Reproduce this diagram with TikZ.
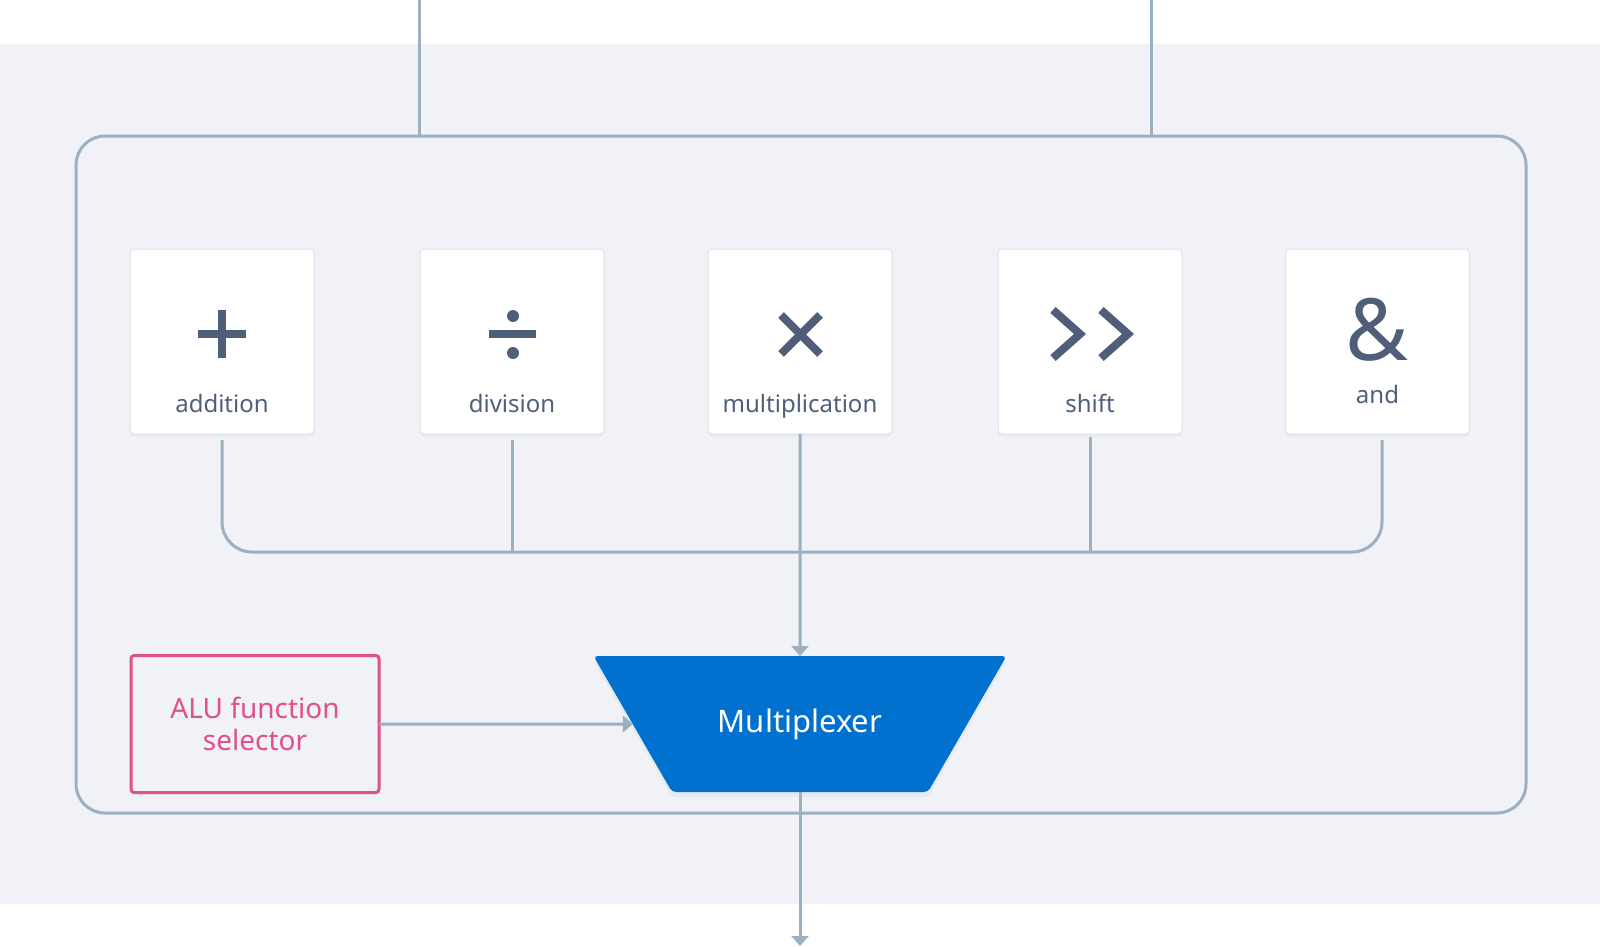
\documentclass[tikz,border=0pt]{standalone}
\usepackage{fontspec}
\setmainfont{Noto Sans}
\usetikzlibrary{shapes.geometric,shadows,arrows.meta}

\definecolor{bandgray}{HTML}{F0F2F7}
\definecolor{wiregray}{HTML}{9BB0C1}
\definecolor{inkgray}{HTML}{4F5F7A}
\definecolor{selpink}{HTML}{E0508A}
\definecolor{muxblue}{HTML}{0071CE}
\definecolor{boxline}{HTML}{DDE1E6}

\tikzset{
  wire/.style={draw=wiregray, line width=3pt},
  feed/.style={-{Triangle[width=17pt,length=10pt]}},
  opbox/.style={draw=boxline, line width=1pt, fill=white, rounded corners=4pt,
    minimum width=184pt, minimum height=185pt, inner sep=0pt, outer sep=0pt,
    drop shadow={shadow xshift=0pt, shadow yshift=-3pt, opacity=0.06}},
  oplabel/.style={anchor=base, text=inkgray, font=\fontsize{24}{29}\selectfont},
  opsym/.style={draw=inkgray, line width=8pt},
}

\begin{document}
\begin{tikzpicture}[x=1pt, y=-1pt]

\useasboundingbox (0,0) rectangle (1600,946);
\fill[bandgray] (0,44) rectangle (1600,904); % Background band

\node[draw=wiregray, line width=3pt, rounded corners=29pt, minimum width=1450pt,
  minimum height=677pt, outer sep=0pt] (alu) at (801,474.5) {}; % ALU frame

\coordinate (inA) at (419,0);
\coordinate (inB) at (1151,0);
\draw[wire] (inA) -- (inA |- alu.north);
\draw[wire] (inB) -- (inB |- alu.north);

\foreach \x/\n/\lbl in {222/add/addition, 512/div/division, 800/mul/multiplication, 1090/shf/shift}{
    \node[opbox] (\n) at (\x,341.5) {};
    \node[oplabel] (\n-txt) at (\x,412) {\lbl};
}
\node[opbox] (and) at (1377.5,341.5) {};
\node[oplabel] (and-txt) at (1377.5,403) {and};

\draw[opsym] (198,334) -- (246,334) (222,310) -- (222,358); % Plus
\draw[opsym] (489,334) -- (536,334); % Divide
\fill[inkgray] (513,316) circle (6pt) (513,353) circle (6pt);
\draw[opsym] (781,315) -- (820,354) (820,315) -- (781,354); % Times
\draw[opsym] (1053,310) -- (1080,334) -- (1053,358); % Shift
\draw[opsym] (1101,310) -- (1128,334) -- (1101,358);
\node[anchor=base, text=inkgray, font=\fontsize{86}{86}\selectfont] (and-sym) at (1377,360) {\&};

\coordinate (bus) at (800,552);
\draw[wire, rounded corners=30pt] ([yshift=-6pt]add.south) |- (bus) -| ([xshift=4.5pt,yshift=-6pt]and.south);
\draw[wire] ([yshift=-6pt]div.south) -- (div.south |- bus);
\draw[wire] ([yshift=-3pt]shf.south) -- (shf.south |- bus);

\node[trapezium, trapezium angle=60, trapezium stretches body, shape border rotate=180,
  minimum width=413pt, text height=23pt, text depth=7pt, inner xsep=0pt, inner ysep=53pt,
  fill=muxblue, rounded corners=4pt, text=white, font=\fontsize{31}{37}\selectfont, outer sep=0pt,
  drop shadow={shadow xshift=0pt, shadow yshift=-5pt, opacity=0.08}] (mux) at (800,724) {Multiplexer};

\node[draw=selpink, line width=3pt, rounded corners=3pt, minimum width=248pt, minimum height=137pt,
  align=center, text=selpink, font=\fontsize{28}{32}\selectfont, outer sep=0pt] (sel) at (255,724) {ALU function\\selector};

\coordinate (out) at (800,946);
\draw[wire, feed] (mul) -- (mux);
\draw[wire, feed] (sel) -- (mux);
\draw[wire, feed] (mux) -- (out);

\end{tikzpicture}
\end{document}
